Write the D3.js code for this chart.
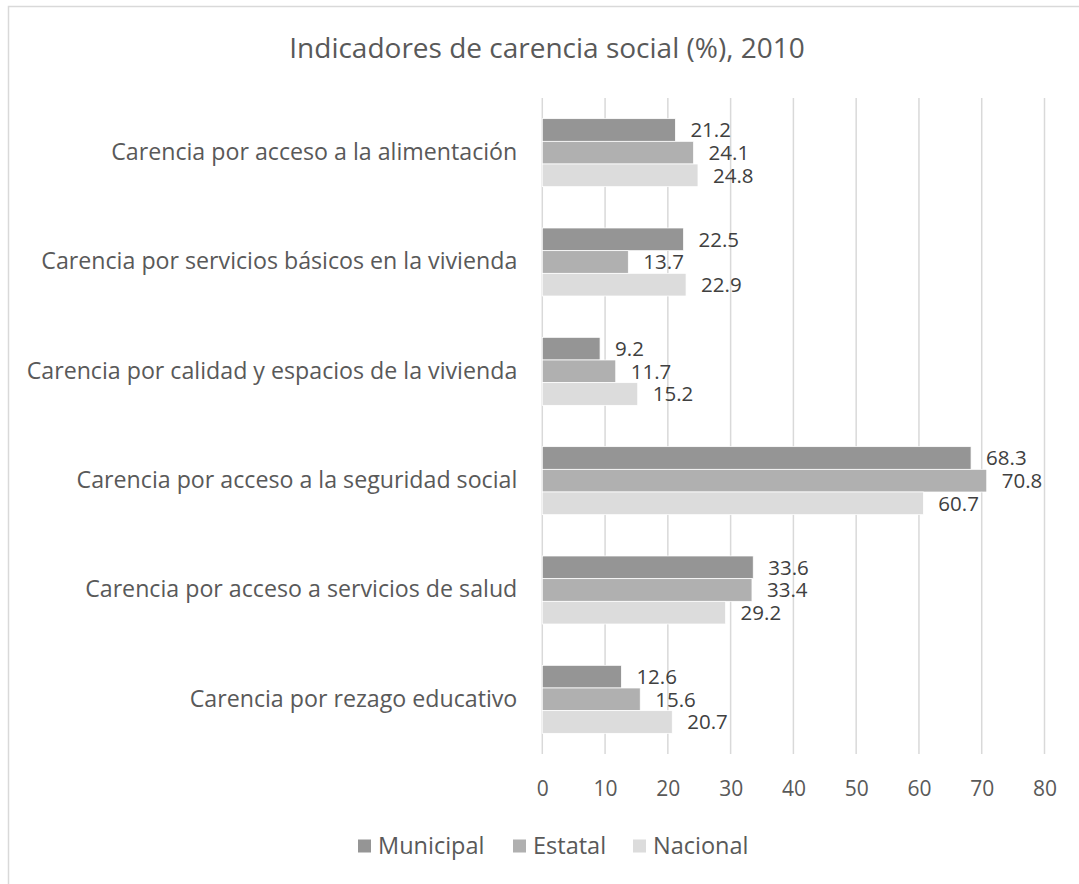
<!DOCTYPE html>
<html>
<head>
<meta charset="utf-8">
<script src="https://cdn.jsdelivr.net/npm/d3@7"></script>
<style>
  html, body { margin: 0; padding: 0; background: #fff; }
  svg { display: block; }
</style>
</head>
<body>
<div id="app"></div>
<script>
const categories = [
  "Carencia por acceso a la alimentación",
  "Carencia por servicios básicos en la vivienda",
  "Carencia por calidad y espacios de la vivienda",
  "Carencia por acceso a la seguridad social",
  "Carencia por acceso a servicios de salud",
  "Carencia por rezago educativo"
];
const seriesNames = ["Municipal", "Estatal", "Nacional"];
const municipal = [21.2, 22.5, 9.2, 68.3, 33.6, 12.6];
const estatal = [24.1, 13.7, 11.7, 70.8, 33.4, 15.6];
const nacional = [24.8, 22.9, 15.2, 60.7, 29.2, 20.7];
const xTicks = [0, 10, 20, 30, 40, 50, 60, 70, 80];

const width = 1079;
const height = 884;
const font = "'Open Sans', Lato, sans-serif";
const textColor = "#595959";
const colors = ["#959595", "#b0b0b0", "#dcdcdc"];

const plot = { left: 542.3, right: 1044.5, top: 98, bottom: 754 };

const seriesValues = [municipal, estatal, nacional];

const svg = d3.select("#app")
  .append("svg")
  .attr("width", width)
  .attr("height", height)
  .style("font-family", font);

// chart border
svg.append("rect")
  .attr("x", 8.5)
  .attr("y", 6.5)
  .attr("width", width + 10)
  .attr("height", height + 10)
  .attr("fill", "#fff")
  .attr("stroke", "#d9d9d9")
  .attr("stroke-width", 1.5);

const x = d3.scaleLinear()
  .domain([0, 80])
  .range([plot.left, plot.right]);

const y = d3.scaleBand()
  .domain(categories)
  .range([plot.top, plot.bottom])
  .paddingInner(0.378)
  .paddingOuter(0.189);

const ySub = d3.scaleBand()
  .domain(seriesNames)
  .range([0, y.bandwidth()]);

// title
svg.append("text")
  .attr("x", 547)
  .attr("y", 58)
  .attr("text-anchor", "middle")
  .attr("fill", textColor)
  .style("font-size", "28px")
  .text("Indicadores de carencia social (%), 2010");

// gridlines
svg.append("g")
  .selectAll("line")
  .data(xTicks)
  .join("line")
  .attr("x1", (d) => x(d))
  .attr("x2", (d) => x(d))
  .attr("y1", plot.top)
  .attr("y2", plot.bottom)
  .attr("stroke", "#d9d9d9")
  .attr("stroke-width", 1.5);

// x axis labels
const xAxis = svg.append("g")
  .attr("transform", `translate(0,${plot.bottom})`)
  .call(d3.axisBottom(x).tickValues(xTicks).tickSize(0).tickPadding(27));
xAxis.select(".domain").remove();
xAxis.selectAll("text")
  .attr("fill", textColor)
  .style("font-size", "21px")
  .style("font-family", font);

// category labels
const yAxis = svg.append("g")
  .attr("transform", `translate(${plot.left},0)`)
  .call(d3.axisLeft(y).tickSize(0).tickPadding(25));
yAxis.select(".domain").remove();
yAxis.selectAll("text")
  .attr("fill", textColor)
  .style("font-size", "23.2px")
  .style("font-family", font);

// bars
const rows = categories.map((c, i) => ({
  category: c,
  values: seriesNames.map((s, j) => ({ series: s, idx: j, value: seriesValues[j][i] }))
}));

const groups = svg.append("g")
  .selectAll("g")
  .data(rows)
  .join("g")
  .attr("transform", (d) => `translate(0,${y(d.category)})`);

groups.selectAll("rect")
  .data((d) => d.values)
  .join("rect")
  .attr("x", x(0))
  .attr("y", (d) => ySub(d.series))
  .attr("width", (d) => x(d.value) - x(0))
  .attr("height", ySub.bandwidth())
  .attr("fill", (d) => colors[d.idx])
  .attr("stroke", "#fff")
  .attr("stroke-width", 0.75);

groups.selectAll("text")
  .data((d) => d.values)
  .join("text")
  .attr("x", (d) => x(d.value) + 15)
  .attr("y", (d) => ySub(d.series) + ySub.bandwidth() / 2)
  .attr("dy", "0.36em")
  .attr("fill", "#404040")
  .style("font-size", "20.5px")
  .text((d) => d.value.toFixed(1));

// legend
const legendItems = [
  { name: "Municipal", x: 358 },
  { name: "Estatal", x: 513 },
  { name: "Nacional", x: 633 }
];
const legend = svg.append("g")
  .selectAll("g")
  .data(legendItems)
  .join("g")
  .attr("transform", (d) => `translate(${d.x},846)`);

legend.append("rect")
  .attr("x", 0)
  .attr("y", -6.5)
  .attr("width", 13)
  .attr("height", 13)
  .attr("fill", (d, i) => colors[i]);

legend.append("text")
  .attr("x", 20)
  .attr("y", 0)
  .attr("dy", "0.36em")
  .attr("fill", textColor)
  .style("font-size", "23.5px")
  .text((d) => d.name);
</script>
</body>
</html>
